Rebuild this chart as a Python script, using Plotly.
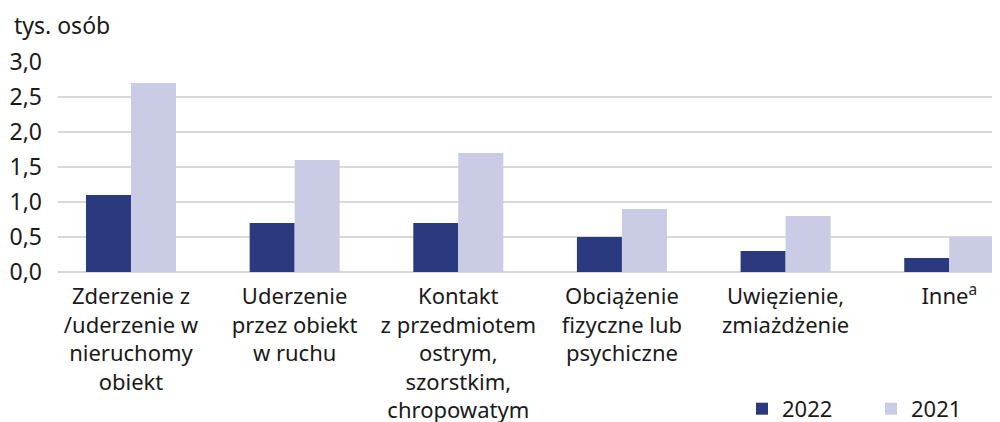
import plotly.graph_objects as go

categories = [
    "Zderzenie z<br>/uderzenie w<br>nieruchomy<br>obiekt",
    "Uderzenie<br>przez obiekt<br>w ruchu",
    "Kontakt<br>z przedmiotem<br>ostrym,<br>szorstkim,<br>chropowatym",
    "Obciążenie<br>fizyczne lub<br>psychiczne",
    "Uwięzienie,<br>zmiażdżenie",
    "Inne<sup>a</sup>",
]
values_2022 = [1.1, 0.7, 0.7, 0.5, 0.3, 0.2]
values_2021 = [2.7, 1.6, 1.7, 0.9, 0.8, 0.5]
y_ticks = [0, 0.5, 1.0, 1.5, 2.0, 2.5, 3.0]

FONT = "Noto Sans"
TXT = "#1a1a1a"
FS = 23

fig = go.Figure()
fig.add_trace(go.Bar(name="2022", x=categories, y=values_2022, marker_color="#2b3a7e", marker_line_width=0))
fig.add_trace(go.Bar(name="2021", x=categories, y=values_2021, marker_color="#cacbe4", marker_line_width=0))

fig.update_layout(
    width=1000, height=422,
    margin=dict(l=50, r=0, t=54, b=158, autoexpand=False),
    paper_bgcolor="white", plot_bgcolor="white",
    separators=", ",
    barmode="group", bargap=0.45, bargroupgap=0,
    font=dict(family=FONT, size=FS, color=TXT),
    showlegend=True,
    legend=dict(orientation="h", xref="container", yref="container",
                x=0.734, xanchor="left", y=0.05, yanchor="middle",
                font=dict(size=22, color=TXT), traceorder="normal",
                entrywidth=84, entrywidthmode="pixels", bgcolor="rgba(0,0,0,0)"),
)
fig.update_xaxes(range=[-0.446, 5.359], showgrid=False, showline=False, ticks="",
                 showticklabels=True, tickangle=0, ticklabelstandoff=9,
                 tickfont=dict(size=22, color=TXT))
fig.update_yaxes(range=[0, 3.0], tickvals=y_ticks, tickformat=".1f",
                 showgrid=True, gridcolor="#d9d9d9", gridwidth=1.5,
                 zeroline=True, zerolinecolor="#d9d9d9", zerolinewidth=1.5,
                 showline=False, ticks="", ticklabelstandoff=15,
                 tickfont=dict(size=FS, color=TXT))

fig.add_annotation(text="tys. osób", xref="paper", yref="paper", x=-0.0488, y=1.176,
                   xanchor="left", yanchor="middle", showarrow=False,
                   font=dict(size=FS, color=TXT))

fig.write_html("out.html")
